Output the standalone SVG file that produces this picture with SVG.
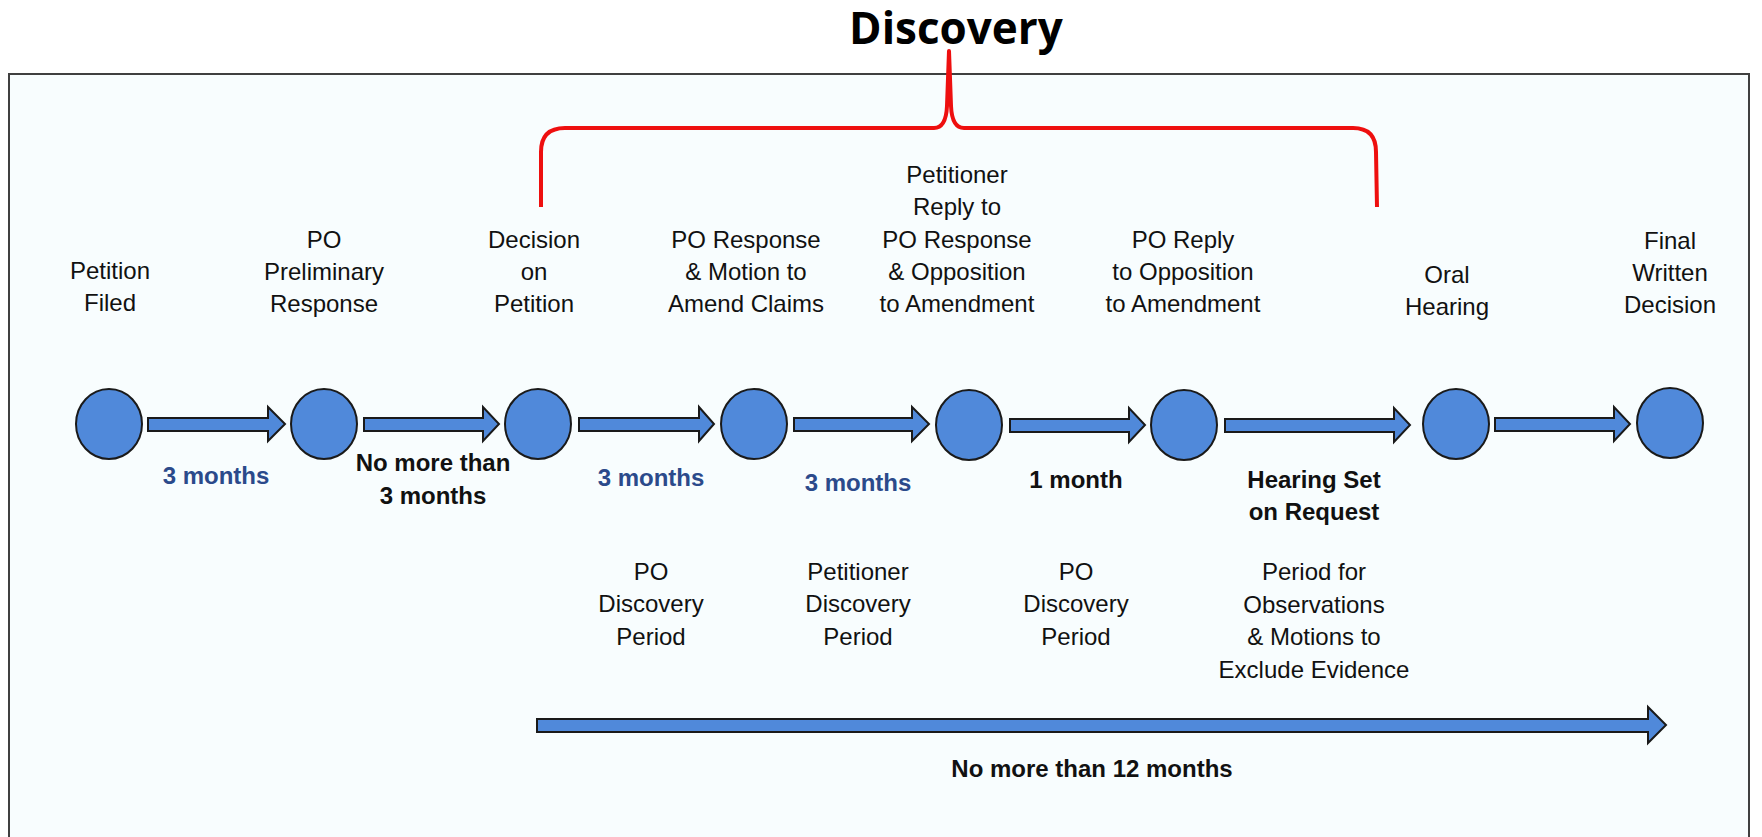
<svg xmlns="http://www.w3.org/2000/svg" width="1762" height="837" viewBox="0 0 1762 837">
<style>
.lbl{font-family:"Liberation Sans",Arial,sans-serif;font-size:24px;fill:#111;text-anchor:middle}
.dur{font-family:"Liberation Sans",Arial,sans-serif;font-size:24px;font-weight:bold;text-anchor:middle}
.blue{fill:#2b4a8b}
.blk{fill:#111}
.node{fill:#5089da;stroke:#1a1a1a;stroke-width:2}
.arr{fill:#5089da;stroke:#1a1a1a;stroke-width:2;stroke-linejoin:miter}
.brace{fill:none;stroke:#ee0f0f;stroke-width:4;stroke-linejoin:round}
</style>
<defs>
<path id="ar" d="M0,-6.5 L120,-6.5 L120,-17 L137,0 L120,17 L120,6.5 L0,6.5 Z"/>
</defs>
<rect x="0" y="0" width="1762" height="837" fill="#ffffff"/>
<rect x="9" y="74" width="1740" height="800" fill="#f8fdfe" stroke="#404040" stroke-width="2"/>
<text x="956" y="44" font-family="'Open Sans','DejaVu Sans',sans-serif" font-size="44" font-weight="bold" text-anchor="middle" fill="#000">Discovery</text>
<path class="brace" d="M541,207 L541,152 Q541,128 565,128 L934,128 Q946,128 947,106 L949,51 L951,106 Q952,128 964,128 L1353,128 Q1376,128 1376,152 L1377,207"/>

<g id="connectors">
<path class="arr" d="M148,418 L268,418 L268,407 L285,424 L268,441 L268,431 L148,431 Z"/>
<path class="arr" d="M364,418 L483,418 L483,407 L499,424 L483,441 L483,431 L364,431 Z"/>
<path class="arr" d="M579,418 L699,418 L699,407 L714,424 L699,441 L699,431 L579,431 Z"/>
<path class="arr" d="M794,418 L912,418 L912,407 L929,424 L912,441 L912,431 L794,431 Z"/>
<path class="arr" d="M1010,419 L1129,419 L1129,408 L1145,425 L1129,442 L1129,432 L1010,432 Z"/>
<path class="arr" d="M1225,419 L1394,419 L1394,408 L1410,425 L1394,442 L1394,432 L1225,432 Z"/>
<path class="arr" d="M1495,418 L1614,418 L1614,407 L1630,424 L1614,441 L1614,431 L1495,431 Z"/>
<path class="arr" d="M537,719 L1648,719 L1648,707 L1666,725 L1648,743 L1648,732 L537,732 Z"/>
</g>

<g id="n1"><ellipse class="node" cx="109" cy="424" rx="33" ry="35"/>
<text class="lbl" x="110" y="279">Petition</text><text class="lbl" x="110" y="311">Filed</text></g>
<g id="n2"><ellipse class="node" cx="324" cy="424" rx="33" ry="35"/>
<text class="lbl" x="324" y="248">PO</text><text class="lbl" x="324" y="280">Preliminary</text><text class="lbl" x="324" y="312">Response</text></g>
<g id="n3"><ellipse class="node" cx="538" cy="424" rx="33" ry="35"/>
<text class="lbl" x="534" y="248">Decision</text><text class="lbl" x="534" y="280">on</text><text class="lbl" x="534" y="312">Petition</text></g>
<g id="n4"><ellipse class="node" cx="754" cy="424" rx="33" ry="35"/>
<text class="lbl" x="746" y="248">PO Response</text><text class="lbl" x="746" y="280">&amp; Motion to</text><text class="lbl" x="746" y="312">Amend Claims</text></g>
<g id="n5"><ellipse class="node" cx="969" cy="425" rx="33" ry="35"/>
<text class="lbl" x="957" y="183">Petitioner</text><text class="lbl" x="957" y="215">Reply to</text><text class="lbl" x="957" y="248">PO Response</text><text class="lbl" x="957" y="280">&amp; Opposition</text><text class="lbl" x="957" y="312">to Amendment</text></g>
<g id="n6"><ellipse class="node" cx="1184" cy="425" rx="33" ry="35"/>
<text class="lbl" x="1183" y="248">PO Reply</text><text class="lbl" x="1183" y="280">to Opposition</text><text class="lbl" x="1183" y="312">to Amendment</text></g>
<g id="n7"><ellipse class="node" cx="1456" cy="424" rx="33" ry="35"/>
<text class="lbl" x="1447" y="283">Oral</text><text class="lbl" x="1447" y="315">Hearing</text></g>
<g id="n8"><ellipse class="node" cx="1670" cy="423" rx="33" ry="35"/>
<text class="lbl" x="1670" y="249">Final</text><text class="lbl" x="1670" y="281">Written</text><text class="lbl" x="1670" y="313">Decision</text></g>

<g id="durations">
<text class="dur blue" x="216" y="484">3 months</text>
<text class="dur blk" x="433" y="471">No more than</text><text class="dur blk" x="433" y="504">3 months</text>
<text class="dur blue" x="651" y="486">3 months</text>
<text class="dur blue" x="858" y="491">3 months</text>
<text class="dur blk" x="1076" y="488">1 month</text>
<text class="dur blk" x="1314" y="488">Hearing Set</text><text class="dur blk" x="1314" y="520">on Request</text>
<text class="dur blk" x="1092" y="777">No more than 12 months</text>
</g>

<g id="periods">
<text class="lbl" x="651" y="580">PO</text><text class="lbl" x="651" y="612">Discovery</text><text class="lbl" x="651" y="645">Period</text>
<text class="lbl" x="858" y="580">Petitioner</text><text class="lbl" x="858" y="612">Discovery</text><text class="lbl" x="858" y="645">Period</text>
<text class="lbl" x="1076" y="580">PO</text><text class="lbl" x="1076" y="612">Discovery</text><text class="lbl" x="1076" y="645">Period</text>
<text class="lbl" x="1314" y="580">Period for</text><text class="lbl" x="1314" y="613">Observations</text><text class="lbl" x="1314" y="645">&amp; Motions to</text><text class="lbl" x="1314" y="678">Exclude Evidence</text>
</g>
</svg>
